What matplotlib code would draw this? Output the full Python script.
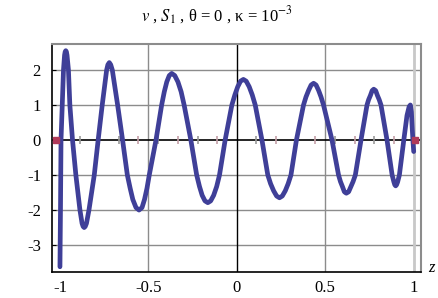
import matplotlib
matplotlib.use('Agg')
import matplotlib.pyplot as plt

plt.rcParams['font.family'] = ['Liberation Serif', 'DejaVu Serif']
plt.rcParams['mathtext.fontset'] = 'stix'
plt.rcParams['axes.unicode_minus'] = False

# curve (z, v)
z = [-1.000, -0.997, -0.994, -0.987, -0.980, -0.974, -0.9705, -0.967, -0.9635, -0.960,
     -0.952, -0.944, -0.929, -0.910, -0.887, -0.875, -0.869, -0.863, -0.857, -0.850,
     -0.836, -0.806, -0.784, -0.761, -0.736, -0.729, -0.721, -0.713, -0.704, -0.674,
     -0.646, -0.619, -0.603, -0.588, -0.570, -0.553, -0.536, -0.522, -0.508, -0.495,
     -0.457, -0.425, -0.410, -0.396, -0.382, -0.368, -0.351, -0.333, -0.315, -0.298,
     -0.260, -0.227, -0.211, -0.196, -0.180, -0.164, -0.148, -0.131, -0.114, -0.098,
     -0.066, -0.028, -0.011, 0.005, 0.021, 0.037, 0.053, 0.070, 0.087, 0.104,
     0.142, 0.175, 0.191, 0.208, 0.225, 0.241, 0.257, 0.274, 0.290, 0.306,
     0.337, 0.377, 0.391, 0.406, 0.420, 0.434, 0.448, 0.462, 0.476, 0.490,
     0.538, 0.575, 0.586, 0.597, 0.608, 0.619, 0.632, 0.645, 0.657, 0.670,
     0.702, 0.736, 0.745, 0.755, 0.765, 0.774, 0.785, 0.795, 0.805, 0.815,
     0.849, 0.878, 0.888, 0.893, 0.898, 0.903, 0.909, 0.919, 0.944, 0.962,
     0.974, 0.981, 0.987, 0.992, 0.996, 1.000]
v = [-3.62, -2.00, 0.00, 1.00, 2.00, 2.42, 2.52, 2.55, 2.52, 2.42,
     2.00, 1.00, 0.00, -1.00, -2.00, -2.38, -2.47, -2.50, -2.47, -2.38,
     -2.00, -1.00, 0.00, 1.00, 2.00, 2.15, 2.21, 2.15, 2.00, 1.00,
     0.00, -1.00, -1.38, -1.70, -1.93, -2.00, -1.93, -1.70, -1.38, -1.00,
     0.00, 1.00, 1.38, 1.66, 1.84, 1.90, 1.84, 1.66, 1.38, 1.00,
     0.00, -1.00, -1.33, -1.58, -1.74, -1.79, -1.74, -1.58, -1.33, -1.00,
     0.00, 1.00, 1.29, 1.52, 1.68, 1.73, 1.68, 1.52, 1.29, 1.00,
     0.00, -1.00, -1.25, -1.45, -1.60, -1.65, -1.60, -1.45, -1.25, -1.00,
     0.00, 1.00, 1.23, 1.42, 1.57, 1.62, 1.57, 1.42, 1.23, 1.00,
     0.00, -1.00, -1.19, -1.33, -1.48, -1.52, -1.48, -1.33, -1.19, -1.00,
     0.00, 1.00, 1.15, 1.27, 1.41, 1.45, 1.41, 1.27, 1.15, 1.00,
     0.00, -1.00, -1.20, -1.28, -1.31, -1.28, -1.20, -1.00, 0.00, 0.70,
     0.95, 1.00, 0.80, 0.30, -0.05, -0.33]

# small marks on the z axis
mark_z = [-0.889, -0.778, -0.667, -0.556, -0.444, -0.333, -0.222, -0.111,
          0.111, 0.222, 0.333, 0.444, 0.556, 0.667, 0.778, 0.889]
end_z = [-1.02, 1.01]
end_v = [0, 0]

xticks = [-1, -0.5, 0, 0.5, 1]
xlabels = ['-1', '-0.5', '0', '0.5', '1']
yticks = [-3, -2, -1, 0, 1, 2]

fig = plt.figure(figsize=(4.38, 2.98), dpi=100)
ax = fig.add_axes([0.1187, 0.0872, 0.842, 0.765])
ax.set_xlim(-1.045, 1.04)
ax.set_ylim(-3.77, 2.74)

# grid
for yv in yticks:
    if yv != 0:
        ax.axhline(yv, color='#8c8c8c', lw=1.0, zorder=1)
ax.axvline(-0.5, color='#8c8c8c', lw=1.0, zorder=1)
ax.axvline(0.5, color='#8c8c8c', lw=1.0, zorder=1)
ax.axvline(1.0, color='#c8c8c8', lw=2.0, zorder=1)
ax.axvline(0, color='black', lw=1.0, zorder=2)
ax.axhline(0, color='black', lw=1.2, zorder=2)

cols = ['#9a9a9a' if i % 2 == 0 else '#c4a0a8' for i in range(len(mark_z))]
ax.vlines(mark_z, -0.12, 0.12, colors=cols, lw=1.2, zorder=2)

ax.plot(z, v, color='#3f3f98', lw=3.4, solid_joinstyle='round',
        solid_capstyle='round', zorder=3)
ax.plot(end_z, end_v, 's', color='#b03a5a', ms=5, zorder=4)

for side in ['top', 'right']:
    ax.spines[side].set_color('#8c8c8c')
    ax.spines[side].set_linewidth(1.5)
ax.spines['left'].set_linewidth(1.2)
ax.spines['bottom'].set_linewidth(1.2)

ax.set_xticks(xticks)
ax.set_xticklabels(xlabels)
ax.set_yticks(yticks)
ax.tick_params(axis='x', length=0, pad=6, labelsize=12)
ax.tick_params(axis='y', direction='in', length=3, pad=8, labelsize=12)

fig.text(0.986, 0.1, 'z', fontsize=12, style='italic', ha='center', va='center')
fig.text(0.496, 0.95, '$v$ , $S_1$ , θ = 0 , κ = 10$^{-3}$',
         fontsize=12, ha='center', va='center')

fig.savefig('out.png', dpi=100)
